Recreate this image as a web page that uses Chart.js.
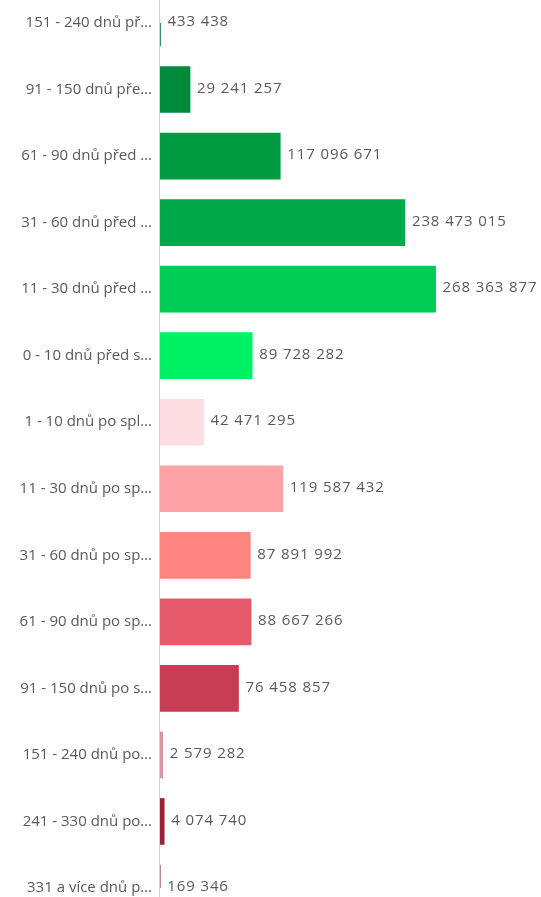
<!DOCTYPE html>
<html>
<head>
<meta charset="utf-8">
<script src="https://cdn.jsdelivr.net/npm/chart.js@4/dist/chart.umd.min.js"></script>
<style>
    html, body { margin: 0; padding: 0; background: #fff; overflow: hidden; }
    #wrap { width: 541px; height: 905px; position: relative; }
</style>
</head>
<body>
<div id="wrap"><canvas id="myChart"></canvas></div>
<script>
const categories = [
    '151 - 240 dnů př…',
    '91 - 150 dnů pře…',
    '61 - 90 dnů před …',
    '31 - 60 dnů před …',
    '11 - 30 dnů před …',
    '0 - 10 dnů před s…',
    '1 - 10 dnů po spl…',
    '11 - 30 dnů po sp…',
    '31 - 60 dnů po sp…',
    '61 - 90 dnů po sp…',
    '91 - 150 dnů po s…',
    '151 - 240 dnů po…',
    '241 - 330 dnů po…',
    '331 a více dnů p…'
];
const amounts = [
    433438, 29241257, 117096671, 238473015, 268363877, 89728282, 42471295,
    119587432, 87891992, 88667266, 76458857, 2579282, 4074740, 169346
];
const barColors = [
    '#006d2e', '#008a3b', '#009a41', '#00aa4a', '#00cc55', '#00f264', '#fddde2',
    '#fda3a5', '#ff8580', '#e65a6c', '#c83d53', '#d9959c', '#9c2036', '#7a1026'
];

const textColor = '#595959';
const fontFamily = '"Open Sans", sans-serif';

function formatNumber(n) {
    return String(n).replace(/\B(?=(\d{3})+(?!\d))/g, ' ');
}

// full-height axis line on the left edge of the plot
const axisLine = {
    id: 'axisLine',
    beforeDatasetsDraw(chart) {
        const ctx = chart.ctx;
        const x = Math.round(chart.chartArea.left) - 0.5;
        ctx.save();
        ctx.strokeStyle = '#cfcfcf';
        ctx.lineWidth = 1;
        ctx.beginPath();
        ctx.moveTo(x, 0);
        ctx.lineTo(x, chart.height);
        ctx.stroke();
        ctx.restore();
    }
};

// value labels after each bar
const valueLabels = {
    id: 'valueLabels',
    afterDatasetsDraw(chart) {
        const ctx = chart.ctx;
        const meta = chart.getDatasetMeta(0);
        ctx.save();
        ctx.font = '15px ' + fontFamily;
        ctx.letterSpacing = '0.9px';
        ctx.fillStyle = textColor;
        ctx.textAlign = 'left';
        ctx.textBaseline = 'middle';
        meta.data.forEach((bar, i) => {
            ctx.fillText(formatNumber(amounts[i]), bar.x + 7, bar.y - 1);
        });
        ctx.restore();
    }
};

const ctx = document.getElementById('myChart').getContext('2d');
new Chart(ctx, {
    type: 'bar',
    data: {
        labels: categories,
        datasets: [{
            data: amounts,
            backgroundColor: barColors,
            borderWidth: 0,
            barThickness: 46
        }]
    },
    options: {
        indexAxis: 'y',
        responsive: true,
        maintainAspectRatio: false,
        animation: false,
        layout: { padding: { top: 23, bottom: 0, right: 1, left: 0 } },
        plugins: {
            legend: { display: false },
            tooltip: { enabled: false }
        },
        scales: {
            x: {
                min: 0,
                max: 370000000,
                display: false,
                grid: { display: false }
            },
            y: {
                offset: false,
                grid: { display: false, drawTicks: false },
                border: { display: false },
                afterFit(scale) { scale.width = 160; },
                ticks: {
                    color: textColor,
                    padding: 8,
                    font: { family: fontFamily, size: 15 }
                }
            }
        }
    },
    plugins: [axisLine, valueLabels]
});
</script>
</body>
</html>
